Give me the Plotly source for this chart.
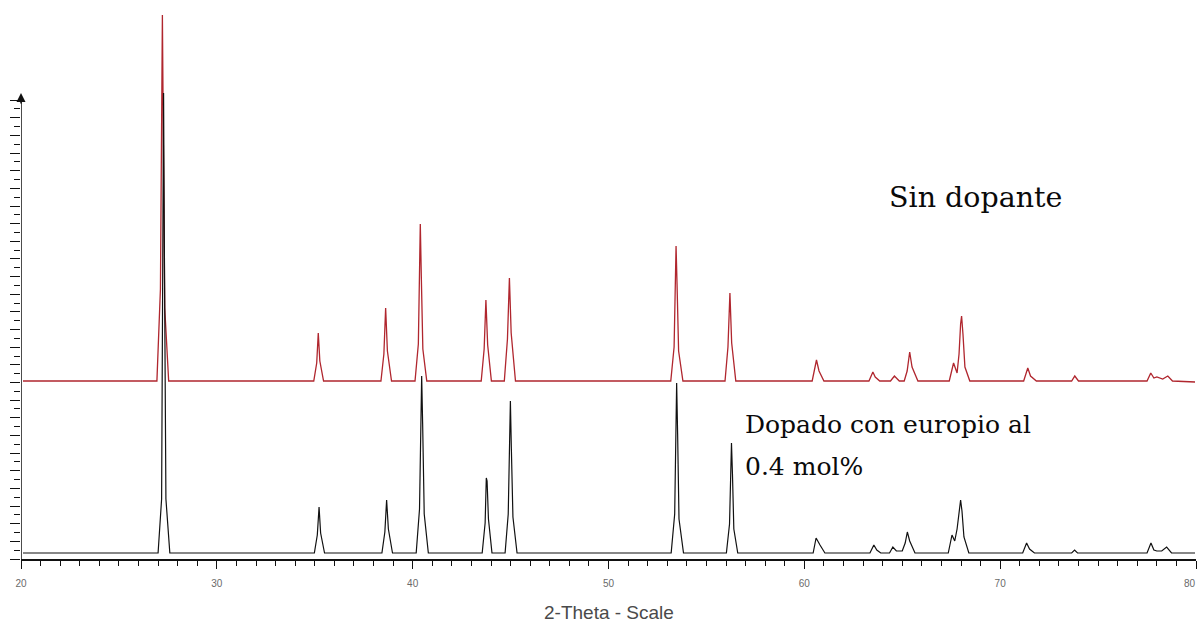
import plotly.graph_objects as go

# ---- data (2-theta in degrees, intensity in arbitrary units as displayed) ----
red_x = [20.1, 26.94, 27.12, 27.18, 27.22, 27.27, 27.34, 27.54,
         34.95, 35.10, 35.18, 35.26, 35.45,
         38.38, 38.53, 38.62, 38.71, 38.92,
         40.12, 40.29, 40.35, 40.39, 40.44, 40.52, 40.72,
         43.50, 43.65, 43.74, 43.83, 44.02,
         44.68, 44.84, 44.94, 45.03, 45.25,
         53.18, 53.35, 53.41, 53.45, 53.50, 53.58, 53.80,
         55.95, 56.10, 56.20, 56.29, 56.50,
         60.40, 60.62, 60.75, 61.00,
         63.30, 63.50, 63.62, 63.85,
         64.40, 64.60, 64.85,
         65.10, 65.25, 65.38, 65.50, 65.80,
         67.40, 67.62, 67.80, 67.90, 67.98, 68.03, 68.10, 68.20, 68.45,
         71.20, 71.41, 71.55, 71.85,
         73.65, 73.81, 74.00,
         77.50, 77.69, 77.85, 78.00, 78.30, 78.56, 78.80,
         79.95]
red_y = [178, 178, 270, 434, 544, 416, 251, 178,
         178, 196, 226, 198, 178,
         178, 205, 251, 208, 178,
         178, 215, 290, 335, 284, 210, 178,
         178, 210, 259, 214, 178,
         178, 220, 281, 226, 178,
         178, 212, 280, 313, 275, 208, 178,
         178, 212, 266, 216, 178,
         178, 199, 188, 178,
         178, 187, 182, 178,
         178, 183, 178,
         178, 188, 207, 192, 178,
         178, 196, 186, 205, 235, 243, 225, 192, 178,
         178, 191, 183, 178,
         178, 183, 178,
         178, 186, 181, 182, 180, 183, 178,
         177]

black_x = [20.1, 27.00, 27.18, 27.24, 27.28, 27.33, 27.40, 27.60,
           34.98, 35.13, 35.22, 35.30, 35.50,
           38.43, 38.58, 38.67, 38.76, 38.97,
           40.18, 40.35, 40.41, 40.46, 40.51, 40.59, 40.80,
           43.55, 43.70, 43.76, 43.80, 43.87, 44.05,
           44.72, 44.88, 44.94, 44.99, 45.04, 45.12, 45.33,
           53.20, 53.38, 53.44, 53.48, 53.53, 53.60, 53.83,
           56.02, 56.18, 56.24, 56.28, 56.33, 56.40, 56.60,
           60.45, 60.60, 60.70, 60.80, 61.05,
           63.35, 63.55, 63.70, 63.90,
           64.35, 64.52, 64.70,
           65.00, 65.15, 65.26, 65.38, 65.65,
           67.35, 67.54, 67.68, 67.80, 67.93, 67.98, 68.05, 68.15, 68.40,
           71.15, 71.35, 71.50, 71.75,
           73.65, 73.80, 73.95,
           77.50, 77.70, 77.85, 78.00, 78.25, 78.50, 78.75,
           79.95]
black_y = [6, 6, 60, 300, 466, 280, 60, 6,
           6, 24, 52, 26, 6,
           6, 27, 59, 30, 6,
           6, 50, 140, 183, 135, 45, 6,
           6, 36, 81, 78, 40, 6,
           6, 45, 115, 158, 110, 42, 6,
           6, 45, 130, 176, 125, 40, 6,
           6, 35, 90, 116, 85, 30, 6,
           6, 21, 18, 14, 6,
           6, 14, 9, 6,
           6, 12, 8,
           8, 16, 27, 18, 6,
           6, 24, 18, 30, 52, 59, 48, 22, 6,
           6, 16, 10, 6,
           6, 9, 6,
           6, 16, 9, 8, 8, 12, 6,
           6]

x_tick_vals = [20, 30, 40, 50, 60, 70, 80]
x_tick_text = ["20", "30", "40", "50", "60", "70", "80"]

label_undoped = "Sin dopante"
label_doped_1 = "Dopado con europio al"
label_doped_2 = "0.4 mol%"
x_title = "2-Theta - Scale"

# ---- figure ----
Y_MAX = 545
Y_AXIS_TOP = 459
Y_STEP = 8.825

fig = go.Figure()
fig.add_trace(go.Scatter(x=red_x, y=red_y, mode="lines",
                         line=dict(color="#b0262e", width=1.3),
                         hoverinfo="skip", showlegend=False))
fig.add_trace(go.Scatter(x=black_x, y=black_y, mode="lines",
                         line=dict(color="#111111", width=1.2),
                         hoverinfo="skip", showlegend=False))

major_y = [i * 2 * Y_STEP for i in range(27)]
minor_y = [(2 * i + 1) * Y_STEP for i in range(26)]

tick_font = dict(family="Liberation Sans, Arial", size=10, color="#6a6a6a")
# the last label sits at the very edge: draw it as a right-anchored annotation
axis_tick_text = x_tick_text[:-1] + [""]

fig.update_layout(
    width=1199, height=624,
    margin=dict(l=21, r=3, t=14, b=65),
    paper_bgcolor="white", plot_bgcolor="white",
    xaxis=dict(range=[20, 80], showgrid=False, zeroline=False, automargin=False,
               showline=True, linecolor="#111111", linewidth=1.5,
               ticks="outside", ticklen=8, tickwidth=1.3, tickcolor="#111111",
               tickmode="array", tickvals=x_tick_vals, ticktext=axis_tick_text,
               ticklabelstandoff=6,
               tickfont=tick_font,
               minor=dict(ticks="outside", ticklen=5, tickwidth=1.2,
                          tickcolor="#111111", dtick=1, tick0=20, showgrid=False)),
    yaxis=dict(range=[0, Y_MAX], showgrid=False, zeroline=False, automargin=False,
               showline=False, showticklabels=False,
               ticks="outside", ticklen=10, tickwidth=1.2, tickcolor="#111111",
               tickmode="array", tickvals=major_y,
               minor=dict(ticks="outside", ticklen=6, tickwidth=1.2,
                          tickcolor="#111111", tickmode="array",
                          tickvals=minor_y, showgrid=False)),
)

fig.add_annotation(x=x_tick_vals[-1], y=0, xref="x", yref="paper", yshift=-24,
                   text=x_tick_text[-1], showarrow=False, xanchor="right",
                   yanchor="middle", xshift=2, font=tick_font)

# vertical axis line with arrow
fig.add_shape(type="line", xref="x", yref="y", x0=20, x1=20, y0=0, y1=Y_AXIS_TOP,
              line=dict(color="#111111", width=1.5))
fig.add_annotation(x=20, y=466, xref="x", yref="y", ax=0, ay=12,
                   showarrow=True, arrowhead=2, arrowsize=1.2, arrowwidth=1.5,
                   arrowcolor="#111111", text="")

serif = "DejaVu Serif, Liberation Serif, serif"
fig.add_annotation(x=64.2, y=362, xref="x", yref="y", text=label_undoped,
                   showarrow=False, xanchor="left", yanchor="middle",
                   font=dict(family=serif, size=28.5, color="#0a0a0a"))
fig.add_annotation(x=56.85, y=135, xref="x", yref="y", text=label_doped_1,
                   showarrow=False, xanchor="left", yanchor="middle",
                   font=dict(family=serif, size=25, color="#0a0a0a"))
fig.add_annotation(x=56.85, y=93, xref="x", yref="y", text=label_doped_2,
                   showarrow=False, xanchor="left", yanchor="middle",
                   font=dict(family=serif, size=25, color="#0a0a0a"))
fig.add_annotation(x=50, y=0, xref="x", yref="paper", yshift=-53,
                   text=x_title, showarrow=False, xanchor="center", yanchor="middle",
                   font=dict(family="Liberation Sans, Arial", size=19, color="#4a4a4a"))

fig.write_html("out.html")
